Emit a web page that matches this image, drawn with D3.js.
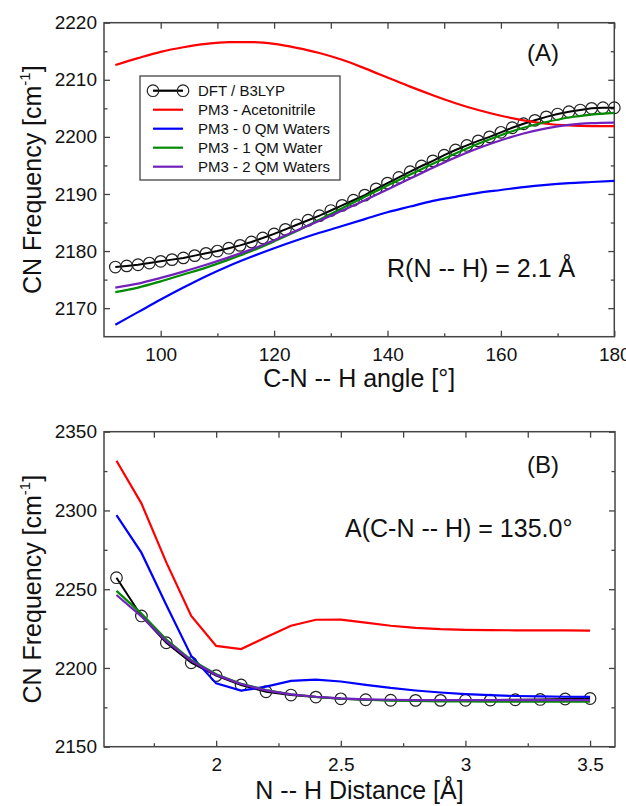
<!DOCTYPE html>
<html><head><meta charset="utf-8">
<script src="https://cdn.jsdelivr.net/npm/d3@7"></script>
<style>
html,body{margin:0;padding:0;background:#fff;}
svg{display:block;font-family:"Liberation Sans",Arial,Helvetica,sans-serif;}
</style></head>
<body>
<svg id="chart" width="626" height="806"></svg>
<script>
// ---------- Panel A data (frequency vs C-N--H angle, R = 2.1 Å) ----------
const anglesDFT = d3.range(92, 181, 2);
const dftA = [2177.2,2177.4,2177.6,2177.9,2178.2,2178.5,2178.8,2179.2,2179.6,2180.0,
  2180.5,2181.0,2181.6,2182.3,2183.0,2183.8,2184.6,2185.4,2186.2,2187.1,
  2188.0,2188.9,2189.8,2190.9,2191.9,2192.9,2193.9,2194.9,2195.8,2196.8,
  2197.7,2198.5,2199.3,2200.0,2200.8,2201.6,2202.3,2202.9,2203.5,2204.0,
  2204.4,2204.7,2205.0,2205.1,2205.1];
const anglesPM3 = [92,96,100,104,108,112,116,120,124,128,132,136,140,144,148,152,156,160,164,168,172,176,180];
const acetonitrileA = [2212.6,2213.8,2214.9,2215.7,2216.3,2216.6,2216.6,2216.3,2215.6,2214.7,2213.5,2212.0,2210.4,2208.8,2207.3,2205.9,2204.7,2203.7,2202.9,2202.3,2202.0,2201.9,2201.9];
const qm0A = [2167.1,2169.3,2171.5,2173.6,2175.6,2177.4,2179.0,2180.5,2181.9,2183.2,2184.4,2185.6,2186.8,2187.8,2188.8,2189.5,2190.2,2190.7,2191.2,2191.6,2191.9,2192.1,2192.3];
const qm1A = [2172.8,2173.6,2174.7,2175.9,2177.1,2178.5,2180.0,2181.7,2183.5,2185.5,2187.5,2189.5,2191.5,2193.4,2195.3,2197.1,2198.8,2200.3,2201.6,2202.6,2203.4,2203.9,2204.2];
const qm2A = [2173.6,2174.3,2175.3,2176.4,2177.6,2178.9,2180.3,2181.9,2183.6,2185.3,2187.1,2188.9,2190.8,2192.7,2194.6,2196.4,2198.0,2199.4,2200.6,2201.5,2202.1,2202.4,2202.5];

// ---------- Panel B data (frequency vs N--H distance, angle = 135°) ----------
const distB = [1.6,1.7,1.8,1.9,2.0,2.1,2.2,2.3,2.4,2.5,2.6,2.7,2.8,2.9,3.0,3.1,3.2,3.3,3.4,3.5];
const dftB = [2257.3,2233.0,2216.0,2203.3,2195.1,2189.2,2184.9,2182.8,2181.5,2180.4,2179.8,2179.5,2179.4,2179.4,2179.5,2179.6,2179.8,2180.0,2180.3,2180.6];
const acetonitrileB = [2331.6,2304.5,2267.0,2233.0,2214.0,2212.0,2219.5,2226.8,2230.6,2230.7,2228.8,2226.8,2225.4,2224.6,2224.2,2224.0,2223.9,2223.8,2223.8,2223.7];
const qm0B = [2297.1,2273.2,2240.0,2207.6,2190.2,2185.6,2188.1,2191.8,2192.6,2191.4,2189.3,2187.3,2185.7,2184.4,2183.4,2182.7,2182.2,2181.9,2181.7,2181.6];
const qm1B = [2248.9,2234.5,2218.0,2205.0,2196.0,2190.0,2186.0,2183.3,2181.6,2180.5,2179.8,2179.3,2179.0,2178.8,2178.7,2178.6,2178.6,2178.6,2178.6,2178.6];
const qm2B = [2246.3,2232.8,2217.0,2204.5,2195.6,2189.8,2185.8,2183.2,2181.7,2180.7,2180.1,2179.8,2179.6,2179.6,2179.6,2179.6,2179.6,2179.6,2179.6,2179.6];

// ---------- Ticks / labels ----------
const xTicksA = [100,120,140,160,180];
const xMinorA = [110,130,150,170];
const yTicksA = [2170,2180,2190,2200,2210,2220];
const yMinorA = [2175,2185,2195,2205,2215];
const xTicksB = [2,2.5,3,3.5];
const xMinorB = [1.75,2.25,2.75,3.25];
const yTicksB = [2150,2200,2250,2300,2350];
const yMinorB = [2175,2225,2275,2325];
const seriesNames = ["DFT / B3LYP","PM3 - Acetonitrile","PM3 - 0 QM Waters","PM3 - 1 QM Water","PM3 - 2 QM Waters"];

// ---------- Styles ----------
const colors = {dft:"#000000", acn:"#ff0000", q0:"#0000ff", q1:"#008b00", q2:"#7221bc"};
const frameColor = "#444";
const svg = d3.select("#chart");

function panel(cfg){
  const g = svg.append("g");
  const x = d3.scaleLinear(cfg.xDomain, cfg.xRange);
  const y = d3.scaleLinear(cfg.yDomain, cfg.yRange);
  const [x0,x1] = cfg.xRange, [y1,y0] = cfg.yRange;
  const MAJ = 6, MIN = 3.5;
  const styleAxis = s => { s.select(".domain").remove();
    s.selectAll(".tick line").attr("stroke", frameColor).attr("stroke-width",1.3);
    s.selectAll(".tick text").attr("fill","#111").style("font-size","19px")
      .style("font-family",'"Liberation Sans",Arial,sans-serif'); };
  // bottom
  g.append("g").attr("transform",`translate(0,${y1})`)
    .call(d3.axisBottom(x).tickValues(cfg.xTicks).tickSize(-MAJ).tickPadding(11).tickFormat(cfg.xFmt)).call(styleAxis);
  g.append("g").attr("transform",`translate(0,${y1})`)
    .call(d3.axisBottom(x).tickValues(cfg.xMinor).tickSize(-MIN).tickFormat("")).call(styleAxis);
  // top
  g.append("g").attr("transform",`translate(0,${y0})`)
    .call(d3.axisTop(x).tickValues(cfg.xTicks.concat(cfg.xMinor)).tickSize(-MAJ).tickFormat("")).call(styleAxis);
  // left
  g.append("g").attr("transform",`translate(${x0},0)`)
    .call(d3.axisLeft(y).tickValues(cfg.yTicks).tickSize(-MAJ).tickPadding(7).tickFormat(d3.format("d"))).call(styleAxis);
  g.append("g").attr("transform",`translate(${x0},0)`)
    .call(d3.axisLeft(y).tickValues(cfg.yMinor).tickSize(-MIN).tickFormat("")).call(styleAxis);
  // right
  g.append("g").attr("transform",`translate(${x1},0)`)
    .call(d3.axisRight(y).tickValues(cfg.yTicks).tickSize(-MAJ).tickFormat("")).call(styleAxis);
  g.append("g").attr("transform",`translate(${x1},0)`)
    .call(d3.axisRight(y).tickValues(cfg.yMinor).tickSize(-MIN).tickFormat("")).call(styleAxis);
  // frame
  g.append("rect").attr("x",x0).attr("y",y0).attr("width",x1-x0).attr("height",y1-y0)
    .attr("fill","none").attr("stroke",frameColor).attr("stroke-width",1.5);

  const curve = cfg.smooth ? d3.curveMonotoneX : d3.curveLinear;
  // DFT line + circles
  const dLine = d3.line().x(d=>x(d[0])).y(d=>y(d[1])).curve(d3.curveLinear);
  const dftPts = cfg.dftX.map((v,i)=>[v,cfg.dftY[i]]);
  g.append("path").attr("d", dLine(dftPts)).attr("fill","none").attr("stroke",colors.dft).attr("stroke-width",2);
  g.selectAll("circle.dft").data(dftPts).join("circle").attr("class","dft")
    .attr("cx",d=>x(d[0])).attr("cy",d=>y(d[1])).attr("r",5.8)
    .attr("fill","none").attr("stroke","#222").attr("stroke-width",1.2);
  const line = d3.line().x(d=>x(d[0])).y(d=>y(d[1])).curve(curve);
  cfg.series.forEach(s=>{
    const pts = cfg.sx.map((v,i)=>[v,s.values[i]]);
    g.append("path").attr("d", line(pts)).attr("fill","none").attr("stroke",s.color).attr("stroke-width",2.2);
  });

  // axis titles
  const yt = g.append("text").attr("transform",`translate(41,${(y0+y1)/2}) rotate(-90)`)
    .attr("text-anchor","middle").style("font-size","25px").attr("fill","#111");
  yt.append("tspan").text("CN Frequency [cm");
  yt.append("tspan").text("-1").attr("dy","-0.75em").style("font-size","15px");
  yt.append("tspan").text("]").attr("dy","0.45em");
  g.append("text").attr("x",(x0+x1)/2).attr("y",cfg.xTitleY).attr("text-anchor","middle")
    .style("font-size","25px").attr("fill","#111").text(cfg.xTitle);
  g.append("text").attr("x",527).attr("y",cfg.tagY).style("font-size","24px").attr("fill","#111").text(cfg.tag);
  g.append("text").attr("x",cfg.noteX).attr("y",cfg.noteY).style("font-size","25px").attr("fill","#111").text(cfg.note);
  return {g,x,y};
}

const A = panel({
  xDomain:[90,180], xRange:[104,614.3], yDomain:[2165,2220], yRange:[336.7,22.7],
  xTicks:xTicksA, xMinor:xMinorA, yTicks:yTicksA, yMinor:yMinorA, xFmt:d3.format("d"),
  dftX:anglesDFT, dftY:dftA, sx:anglesPM3, smooth:true,
  series:[{values:acetonitrileA,color:colors.acn},{values:qm0A,color:colors.q0},
          {values:qm1A,color:colors.q1},{values:qm2A,color:colors.q2}],
  xTitle:"C-N -- H angle [°]", xTitleY:387, tag:"(A)", tagY:61,
  note:"R(N -- H) = 2.1 Å", noteX:387, noteY:277
});

const B = panel({
  xDomain:[1.55,3.6], xRange:[104,615], yDomain:[2150,2350], yRange:[746.7,431.7],
  xTicks:xTicksB, xMinor:xMinorB, yTicks:yTicksB, yMinor:yMinorB, xFmt:d3.format("~g"),
  dftX:distB, dftY:dftB, sx:distB, smooth:false,
  series:[{values:acetonitrileB,color:colors.acn},{values:qm0B,color:colors.q0},
          {values:qm1B,color:colors.q1},{values:qm2B,color:colors.q2}],
  xTitle:"N -- H Distance [Å]", xTitleY:799, tag:"(B)", tagY:473,
  note:"A(C-N -- H) = 135.0°", noteX:345, noteY:537
});

// ---------- Legend (panel A) ----------
const leg = svg.append("g");
leg.append("rect").attr("x",140).attr("y",76).attr("width",200).attr("height",104)
  .attr("fill","#fff").attr("stroke",frameColor).attr("stroke-width",1.3);
const legColors = [colors.dft, colors.acn, colors.q0, colors.q1, colors.q2];
seriesNames.forEach((name,i)=>{
  const yy = 90.7 + i*19;
  leg.append("line").attr("x1",153).attr("x2",183).attr("y1",yy).attr("y2",yy)
    .attr("stroke",legColors[i]).attr("stroke-width",2.2);
  if(i===0){
    [153,183].forEach(cx=>leg.append("circle").attr("cx",cx).attr("cy",yy).attr("r",5.8)
      .attr("fill","none").attr("stroke","#222").attr("stroke-width",1.2));
  }
  leg.append("text").attr("x",198).attr("y",yy).attr("dy","0.36em")
    .style("font-size","15px").attr("fill","#111").text(name);
});
</script>
</body></html>
